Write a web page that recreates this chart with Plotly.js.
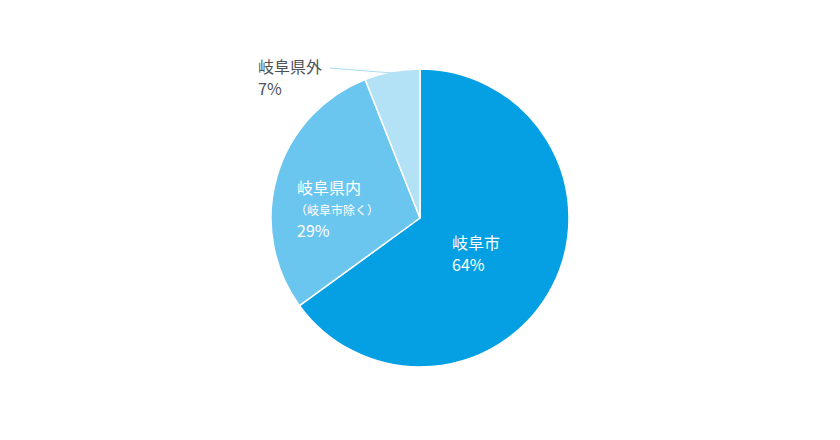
<!DOCTYPE html>
<html><head><meta charset="utf-8">
<script src="https://cdn.plot.ly/plotly-3.0.1.min.js"></script>
<style>html,body{margin:0;padding:0;background:#fff;}#chart{width:840px;height:440px;}</style>
</head><body><div id="chart"></div>
<script>
const labels = ["岐阜市", "岐阜県内", "岐阜県外"];
const sublabels = ["", "（岐阜市除く）", ""];
const values = [65, 29, 6];
const pctLabels = ["64%", "29%", "7%"];
const colors = ["#05a0e4", "#6bc6ef", "#b3e1f5"];

const W = 840, H = 440;
const font = "'Noto Sans CJK JP', 'Noto Sans', sans-serif";
// [x left, y of name, y of sublabel, y of pct] in pixels
const labelPos = [[452, 242, null, 264], [297, 187, 209, 230], [258, 66, null, 88]];
const labelColor = ["#ffffff", "#ffffff", "#4d535b"];

const px = v => v / W, py = v => 1 - v / H;
const annotations = [];
labels.forEach((l, i) => {
  const p = labelPos[i];
  const base = {xref: "paper", yref: "paper", x: px(p[0] - 1), xanchor: "left", yanchor: "middle",
    showarrow: false, borderpad: 0};
  annotations.push(Object.assign({}, base, {y: py(p[1]), text: l,
    font: {family: font, size: 16, color: labelColor[i]}}));
  if (sublabels[i]) annotations.push(Object.assign({}, base, {x: px(p[0] - 3), y: py(p[2]), text: sublabels[i],
    font: {family: font, size: 12, color: labelColor[i]}}));
  annotations.push(Object.assign({}, base, {y: py(p[3]), text: pctLabels[i],
    font: {family: font, size: 16, color: labelColor[i]}}));
});

const cx = 420, cy = 218, r = 149;
const data = [{
  type: "pie",
  labels: labels, values: values,
  sort: false, direction: "clockwise", rotation: 0,
  marker: {colors: colors, line: {color: "#ffffff", width: 1.5}},
  textinfo: "none", hoverinfo: "none",
  domain: {x: [px(cx - r), px(cx + r)], y: [py(cy + r), py(cy - r)]}
}];

const layout = {
  width: W, height: H,
  margin: {l: 0, r: 0, t: 0, b: 0},
  paper_bgcolor: "#ffffff",
  showlegend: false,
  annotations: annotations,
  shapes: [{
    type: "line", xref: "paper", yref: "paper",
    x0: px(330), y0: py(68), x1: px(392), y1: py(73),
    line: {color: "#a9dcf3", width: 1}
  }]
};
Plotly.newPlot("chart", data, layout, {staticPlot: true});
</script></body></html>
